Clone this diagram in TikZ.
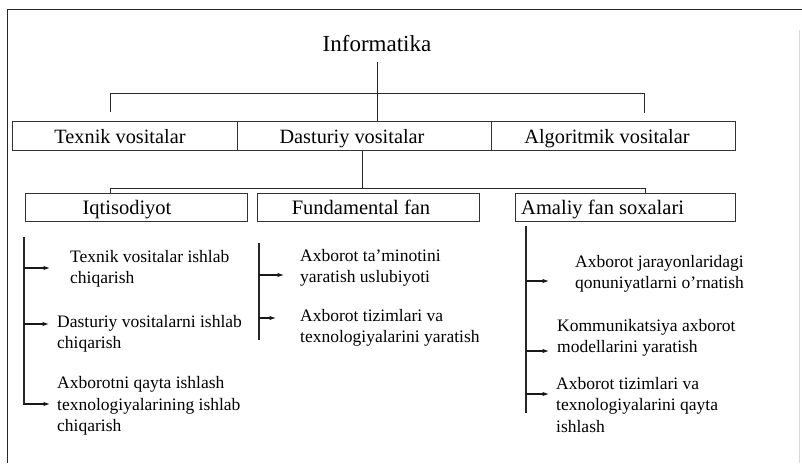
\documentclass[tikz,border=0pt]{standalone}
\usepackage{fontspec}
\setmainfont{Liberation Serif}
\usetikzlibrary{arrows.meta}
\begin{document}
\begin{tikzpicture}[x=1pt,y=-1pt,
  line/.style={draw=black!85, line width=0.9pt},
  arr/.style={draw=black!90, line width=1.1pt, -{Latex[length=6.5pt,width=4.5pt]}},
  cell/.style={draw=black!80, line width=0.9pt, minimum height=28.5pt, inner sep=0pt},
  toptxt/.style={anchor=base, inner sep=0pt, font=\fontsize{20.3}{24}\selectfont},
  midtxt/.style={anchor=base, inner sep=0pt, font=\fontsize{20.5}{24}\selectfont},
  body/.style={anchor=west, align=left, inner sep=0pt, font=\fontsize{17.5}{21.5}\selectfont}]
\useasboundingbox (0,0) rectangle (802,463);
\fill[white] (0,0) rectangle (802,463);
% outer frame
\draw[line] (7,463) -- (7,9) -- (802,9);
\draw[black!15, line width=0.8pt] (799,30) -- (799,463);

% title
\node[anchor=base, inner sep=0pt, font=\fontsize{23}{27}\selectfont] (info) at (377,51) {Informatika};

% top row
\node[cell, minimum width=225pt] (texnik) at (124.5,136) {};
\node[cell, minimum width=254pt] (dasturiy) at (364,136) {};
\node[cell, minimum width=244pt] (algo) at (613,136) {};
\node[toptxt] (texnikt) at (120,143) {Texnik vositalar};
\node[toptxt] (dasturiyt) at (352,143) {Dasturiy vositalar};
\node[toptxt] (algot) at (607,143) {Algoritmik vositalar};

% second row
\node[cell, minimum width=222pt] (iqt) at (136,207.5) {};
\node[cell, minimum width=222pt] (fund) at (368,207.5) {};
\node[cell, minimum width=220pt] (amaliy) at (625,207.5) {};
\node[midtxt] (iqtt) at (127,214) {Iqtisodiyot};
\node[midtxt] (fundt) at (361,214) {Fundamental fan};
\node[midtxt, anchor=base west] (amaliyt) at (521,214) {Amaliy fan soxalari};

% connectors top
\coordinate (c0) at (377,62);
\draw[line] (c0) -- (c0 |- dasturiy.north);
\coordinate (b1l) at (110,93);
\coordinate (b1r) at (644,93);
\draw[line] (b1l) -- (b1r);
\draw[line] (b1l) -- ++(0,19);
\draw[line] (b1r) -- ++(0,20);

\coordinate (d2) at (362,188);
\draw[line] (d2 |- dasturiy.south) -- (d2);
\coordinate (b2l) at (110,188);
\coordinate (b2r) at (645,188);
\draw[line] (b2l) -- (b2r);
\draw[line] (b2l) -- (b2l |- iqt.north);
\draw[line] (b2r) -- (b2r |- amaliy.north);

% left column
\node[body] (t1) at (70,269) {Texnik vositalar ishlab\\chiqarish};
\node[body] (t2) at (57,334) {Dasturiy vositalarni ishlab\\chiqarish};
\node[body] (t3) at (57,406) {Axborotni qayta ishlash\\texnologiyalarining ishlab\\chiqarish};
\coordinate (lt) at (24,237);
\coordinate (lb) at (24,405);
\draw[line, line width=1.1pt] (lt) -- (lb);
\coordinate (la1) at (50,268);
\coordinate (la2) at (49,324);
\coordinate (la3) at (50,404);
\draw[arr] (la1 -| lt) -- (la1);
\draw[arr] (la2 -| lt) -- (la2);
\draw[arr] (la3 -| lt) -- (la3);

% middle column
\node[body] (m1) at (300,268) {Axborot ta'minotini\\yaratish uslubiyoti};
\node[body] (m2) at (300,328) {Axborot tizimlari va\\texnologiyalarini yaratish};
\coordinate (mt) at (259,243);
\coordinate (mb) at (259,340);
\draw[line, line width=1.1pt] (mt) -- (mb);
\coordinate (ma1) at (284,275);
\coordinate (ma2) at (276,318);
\draw[arr] (ma1 -| mt) -- (ma1);
\draw[arr] (ma2 -| mt) -- (ma2);

% right column
\node[body] (r1) at (575,274) {Axborot jarayonlaridagi\\qonuniyatlarni o'rnatish};
\node[body] (r2) at (557,338) {Kommunikatsiya axborot\\modellarini yaratish};
\node[body] (r3) at (556,405) {Axborot tizimlari va\\texnologiyalarini qayta\\ishlash};
\coordinate (rt) at (526,226);
\coordinate (rb) at (526,413);
\draw[line, line width=1.1pt] (rt) -- (rb);
\coordinate (ra1) at (549,281);
\coordinate (ra2) at (549,351);
\coordinate (ra3) at (549,394);
\draw[arr] (ra1 -| rt) -- (ra1);
\draw[arr] (ra2 -| rt) -- (ra2);
\draw[arr] (ra3 -| rt) -- (ra3);
\end{tikzpicture}
\end{document}
